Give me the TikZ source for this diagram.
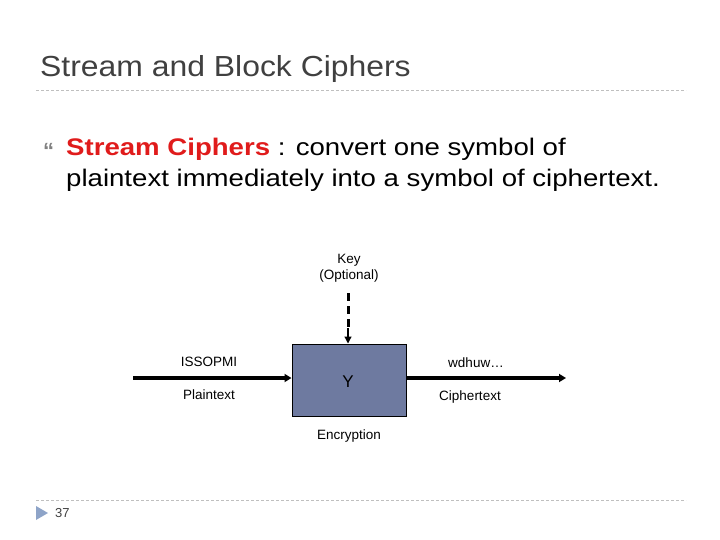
\documentclass[tikz,border=0pt]{standalone}
\usepackage{fontspec}
\setmainfont{Liberation Sans}
\usetikzlibrary{arrows.meta}
\definecolor{titlegray}{HTML}{404040}
\definecolor{rulegray}{HTML}{BFBFBF}
\definecolor{boxfill}{HTML}{6E7AA0}
\definecolor{bulletred}{HTML}{E01B1B}
\definecolor{tri}{HTML}{8EA4C8}
\tikzset{
  lbl/.style={font=\fontsize{13.5}{15}\selectfont, inner sep=0pt, anchor=center},
  bodytext/.style={anchor=base west, inner sep=0pt, text=black, font=\fontsize{24}{28}\selectfont},
  flow/.style={line width=3.2pt, -{Triangle[length=7pt,width=8pt]}},
  sep/.style={rulegray, dashed, dash pattern=on 3pt off 2pt, line width=0.8pt}
}
\begin{document}
\begin{tikzpicture}[x=1pt,y=-1pt]
\useasboundingbox (0,0) rectangle (720,540);
% title
\node[anchor=base west, inner sep=0pt, text=titlegray, font=\fontsize{29}{32}\selectfont] (title) at (40,77) {\scalebox{1.1}[1]{Stream and Block Ciphers}};
\draw[sep] (36,90) -- (686,90);
% bullet
\node[anchor=base west, inner sep=0pt, text=gray, font=\fontsize{22}{24}\selectfont\bfseries] (bul) at (43,159) {“};
\node[bodytext] (body1) at (66,156)
  {\scalebox{1.15}[1]{\textcolor{bulletred}{\textbf{Stream Ciphers}} : convert one symbol of}};
\node[bodytext] (body2) at (66,187)
  {\scalebox{1.15}[1]{plaintext immediately into a symbol of ciphertext.}};
% diagram
\node[draw=black, line width=1pt, fill=boxfill, minimum width=114pt, minimum height=72pt, inner sep=0pt] (box) at (349,380) {};
\node[font=\fontsize{17}{20}\selectfont, inner sep=0pt] (y) at (348,382) {Y};
\node[lbl] (key) at (349,260) {Key};
\node[lbl] (opt) at (349,276) {(Optional)};
\coordinate (keytop) at (348,293);
\coordinate (inl) at (133,378);
\coordinate (outr) at (566,378);
\draw[line width=3pt, dash pattern=on 8pt off 5pt] (keytop) -- (348,330);
\draw[line width=1.2pt, -{Triangle[length=7pt,width=7pt]}] (348,328) -- (box.north -| 348,0);
\draw[flow] (inl) -- (box.west |- inl);
\draw[flow] (box.east |- outr) -- (outr);
\node[lbl] (iss) at (209,362) {ISSOPMI};
\node[lbl] (pt) at (209,395) {Plaintext};
\node[lbl] (wd) at (476,363) {wdhuw…};
\node[lbl] (ct) at (470,397) {Ciphertext};
\node[lbl] (enc) at (349,436) {Encryption};
% footer
\draw[sep] (36,500) -- (686,500);
\fill[tri] (36,506) -- (48,513) -- (36,520) -- cycle;
\node[anchor=west, inner sep=0pt, text=titlegray, font=\fontsize{13}{15}\selectfont] (num) at (55,513) {37};
\end{tikzpicture}
\end{document}
